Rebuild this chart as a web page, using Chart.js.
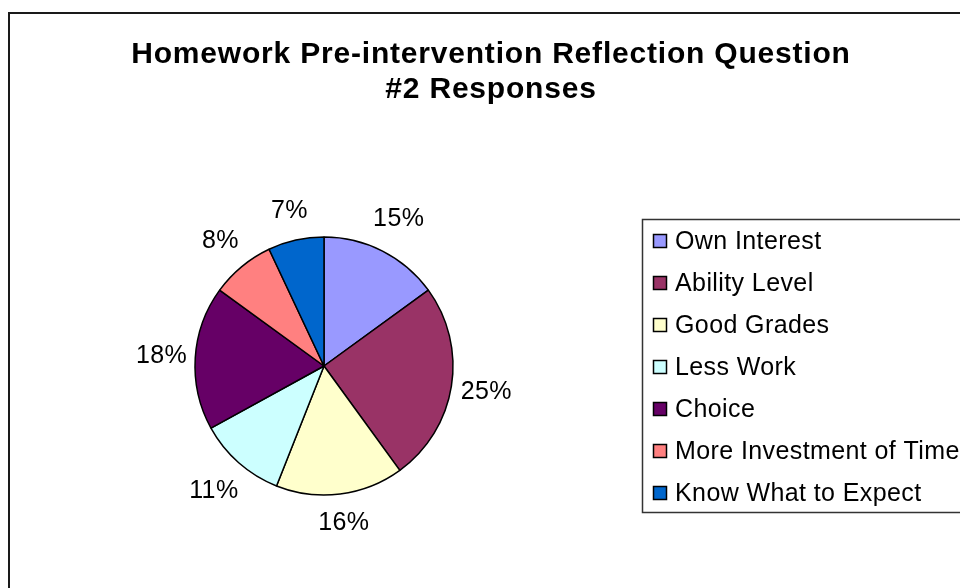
<!DOCTYPE html>
<html>
<head>
<meta charset="utf-8">
<script src="https://cdn.jsdelivr.net/npm/chart.js@4"></script>
<style>
  html, body { margin: 0; padding: 0; background: #fff; }
  #wrap { width: 960px; height: 588px; position: relative; }
</style>
</head>
<body>
<div id="wrap"><canvas id="pie-chart"></canvas></div>
<script>
// chart data
const categories = ["Own Interest", "Ability Level", "Good Grades", "Less Work", "Choice", "More Investment of Time", "Know What to Expect"];
const percents = [15, 25, 16, 11, 18, 8, 7];
const titleLines = ["Homework Pre-intervention Reflection Question", "#2 Responses"];

// excel 2003 palette
const sliceColors = ["#9999FF", "#993366", "#FFFFCC", "#CCFFFF", "#660066", "#FF8080", "#0066CC"];
const FONT = '"Liberation Sans", Arial, sans-serif';

// frame, title, legend and % labels drawn the excel way
const excelLook = {
  id: "excelLook",
  beforeDraw(chart) {
    const c = chart.ctx;
    c.save();
    c.fillStyle = "#fff";
    c.fillRect(0, 0, chart.width, chart.height);
    c.strokeStyle = "#1a1a1a";
    c.lineWidth = 2;
    c.strokeRect(9, 13, 1000, 1000); // right/bottom edges run off the picture
    c.restore();
  },
  afterDraw(chart) {
    const c = chart.ctx;
    c.save();

    // title
    c.fillStyle = "#000";
    c.font = "bold 30px " + FONT;
    c.letterSpacing = "0.8px";
    c.textAlign = "center";
    c.textBaseline = "alphabetic";
    titleLines.forEach((t, i) => c.fillText(t, 491, 63 + i * 35));

    // percentage labels outside the slices
    c.font = "25px " + FONT;
    c.letterSpacing = "0.4px";
    c.textBaseline = "middle";
    const meta = chart.getDatasetMeta(0);
    meta.data.forEach((arc, i) => {
      const txt = percents[i] + "%";
      const w = c.measureText(txt).width;
      const mid = (arc.startAngle + arc.endAngle) / 2;
      const dx = Math.cos(mid), dy = Math.sin(mid);
      const dist = arc.outerRadius + 7 + Math.abs(dx) * w / 2 + Math.abs(dy) * 19;
      c.fillText(txt, arc.x + dx * dist, arc.y + dy * dist);
    });

    // legend box
    c.strokeStyle = "#333";
    c.lineWidth = 1.5;
    c.strokeRect(642.5, 219.5, 400, 293);
    c.textAlign = "left";
    c.textBaseline = "alphabetic";
    categories.forEach((name, i) => {
      const y = 241 + i * 42;
      c.fillStyle = sliceColors[i];
      c.fillRect(653.5, y - 6.5, 13, 13);
      c.strokeStyle = "#000";
      c.lineWidth = 1.5;
      c.strokeRect(653.5, y - 6.5, 13, 13);
      c.fillStyle = "#000";
      c.fillText(name, 675, y + 8);
    });
    c.restore();
  }
};

var ctx = document.getElementById("pie-chart").getContext("2d");
var config = {
  type: "pie",
  data: {
    labels: categories,
    datasets: [{
      data: percents,
      backgroundColor: sliceColors,
      borderColor: "#000",
      borderWidth: 1.5,
      radius: 129,
    }],
  },
  options: {
    responsive: true,
    maintainAspectRatio: false,
    animation: false,
    layout: { padding: { left: 195, right: 507, top: 237, bottom: 93 } },
    plugins: {
      legend: { display: false },
      title: { display: false },
      tooltip: { enabled: false },
    },
  },
  plugins: [excelLook],
};

chart = new Chart(ctx, config);
</script>
</body>
</html>
